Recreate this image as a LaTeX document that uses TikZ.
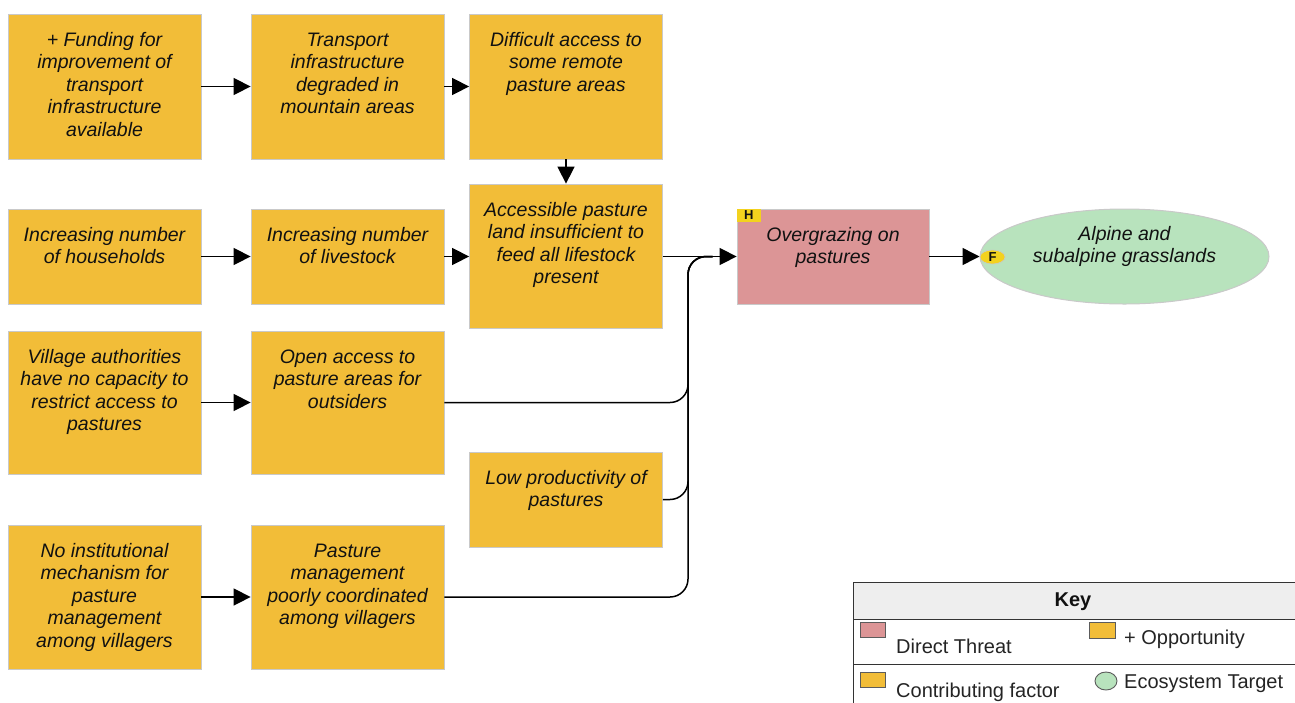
\documentclass[tikz,border=0pt]{standalone}
\usepackage{fontspec}
\setmainfont{Liberation Sans}
\usetikzlibrary{arrows.meta,shapes.geometric}
\definecolor{cfill}{HTML}{F2BD38}
\definecolor{tfill}{HTML}{DC9596}
\definecolor{gfill}{HTML}{B8E3BD}
\definecolor{bdcol}{HTML}{C9C9C9}
\definecolor{badgecol}{HTML}{F3D21E}
\definecolor{keyhd}{HTML}{EEEEEE}
\definecolor{keyln}{HTML}{333333}
\definecolor{txt}{HTML}{111111}
\newcommand{\bt}[2]{\parbox[c][#1][t]{190pt}{\centering\rule{0pt}{32pt}#2}}
\begin{document}
\begin{tikzpicture}[x=1pt,y=-1pt,
  box/.style={draw=bdcol, line width=0.8pt, fill=cfill, inner sep=0pt, minimum width=193pt, text=txt,
    font=\fontsize{19.5}{22.5}\selectfont\itshape},
  threat/.style={box, fill=tfill, minimum width=192pt},
  arr/.style={line width=1.5pt, -{Triangle[length=17pt,width=17pt]}},
  mline/.style={line width=1.5pt, rounded corners=18pt},
  badge/.style={fill=badgecol, inner sep=0pt, text=txt, font=\fontsize{13}{13}\selectfont\bfseries},
  sw/.style={draw=keyln!80, line width=0.9pt, inner sep=0pt, minimum width=25pt, minimum height=15pt},
  keytxt/.style={anchor=west, inner sep=0pt, text=keyln!70!black, font=\fontsize{20}{24}\selectfont}
]
\useasboundingbox (0,0) rectangle (1295,702);

% nodes
\node[box] (fund) at (104.5,86.5) {\bt{145pt}{+ Funding for\\ improvement of\\ transport\\ infrastructure\\ available}};
\node[box] (trans) at (347.5,86.5) {\bt{145pt}{Transport\\ infrastructure\\ degraded in\\ mountain areas}};
\node[box] (diff) at (566,86.5) {\bt{145pt}{Difficult access to\\ some remote\\ pasture areas}};
\node[box] (hh) at (104.5,256.5) {\bt{95pt}{Increasing number\\ of households}};
\node[box] (live) at (347.5,256.5) {\bt{95pt}{Increasing number\\ of livestock}};
\node[box] (acc) at (566,256) {\bt{144pt}{Accessible pasture\\ land insufficient to\\ feed all lifestock\\ present}};
\node[box] (vill) at (104.5,402.5) {\bt{143pt}{Village authorities\\ have no capacity to\\ restrict access to\\ pastures}};
\node[box] (open) at (347.5,402.5) {\bt{143pt}{Open access to\\ pasture areas for\\ outsiders}};
\node[box] (low) at (566,499.5) {\bt{95pt}{Low productivity of\\ pastures}};
\node[box] (inst) at (104.5,597) {\bt{144pt}{No institutional\\ mechanism for\\ pasture\\ management\\ among villagers}};
\node[box] (mgmt) at (347.5,597) {\bt{144pt}{Pasture\\ management\\ poorly coordinated\\ among villagers}};
\node[threat] (thr) at (833,256.5) {\bt{95pt}{Overgrazing on\\ pastures}};
\node[ellipse, draw=bdcol, line width=1pt, fill=gfill, inner sep=0pt, minimum width=289pt, minimum height=95pt,
  text=txt, font=\fontsize{19.5}{22.5}\selectfont\itshape] (tgt) at (1124.5,256.5)
  {\raisebox{5pt}[0pt][0pt]{\parbox{190pt}{\centering Alpine and\\ subalpine grasslands}}};
\node[badge, anchor=north west, minimum width=24pt, minimum height=13pt] (hb) at (thr.north west) {H};
\node[badge, ellipse, draw=bdcol, line width=0.6pt, minimum width=25pt, minimum height=14pt] (fb) at (992.5,257) {F};

% connectors
\coordinate (mx) at (688,0);
\coordinate (jn) at ([xshift=-24pt]thr.west);
\draw[mline] (open.east) -- (open.east -| mx) -- (mx |- thr.west) -- (jn);
\draw[mline] (low.east) -- (low.east -| mx) -- (mx |- thr.west) -- (jn);
\draw[mline] (mgmt.east) -- (mgmt.east -| mx) -- (mx |- thr.west) -- (jn);
\draw[arr] (fund) -- (trans);
\draw[arr] (trans) -- (diff);
\draw[arr] (diff) -- (acc);
\draw[arr] (hh) -- (live);
\draw[arr] (live.east) -- (live.east -| acc.west);
\draw[arr] (vill) -- (open);
\draw[arr] (inst) -- (mgmt);
\draw[arr] (acc.east |- thr.west) -- (thr.west);
\draw[arr] (thr.east) -- (tgt.west);

% key
\fill[keyhd] (853,582) rectangle (1296,619);
\draw[keyln, line width=1pt] (1297,582) -- (853,582) -- (853,704);
\draw[keyln, line width=1pt] (853,619) -- (1297,619);
\draw[keyln, line width=1pt] (853,664) -- (1297,664);
\node[inner sep=0pt, text=txt, font=\fontsize{20}{24}\selectfont\bfseries] (kt) at (1073,602) {Key};
\node[sw, fill=tfill] (ks1) at (872.5,629.5) {};
\node[sw, fill=cfill, minimum width=26pt, minimum height=16pt] (ks2) at (1102,630) {};
\node[sw, fill=cfill] (ks3) at (872.5,679.5) {};
\node[sw, ellipse, fill=gfill, minimum width=22pt, minimum height=18pt] (ks4) at (1106,681) {};
\node[keytxt] (kl1) at (896,646) {Direct Threat};
\node[keytxt] (kl2) at (1124,639) {+ Opportunity};
\node[keytxt] (kl3) at (896,692) {Contributing factor};
\node[keytxt] (kl4) at (1124,684) {Ecosystem Target};
\end{tikzpicture}
\end{document}
